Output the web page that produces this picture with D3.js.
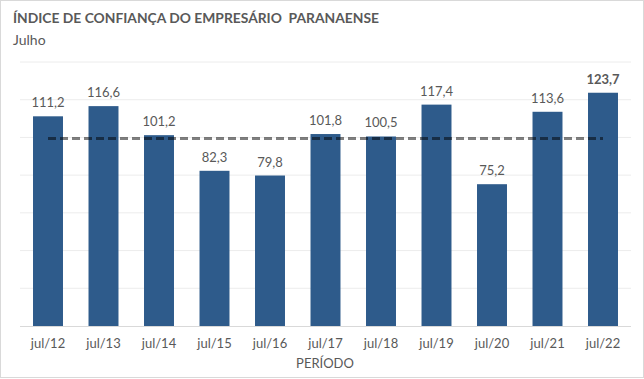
<!DOCTYPE html>
<html><head><meta charset="utf-8">
<script src="https://cdn.jsdelivr.net/npm/d3@7"></script>
<style>body{margin:0;background:#fff;} svg{display:block;}</style>
</head><body>
<script>
const categories = ["jul/12","jul/13","jul/14","jul/15","jul/16","jul/17","jul/18","jul/19","jul/20","jul/21","jul/22"];
const values = [111.2,116.6,101.2,82.3,79.8,101.8,100.5,117.4,75.2,113.6,123.7];
const labels = ["111,2","116,6","101,2","82,3","79,8","101,8","100,5","117,4","75,2","113,6","123,7"];
const refValue = 100;
const yTicks = [0,20,40,60,80,100,120,140];

const W = 644, H = 379;
const font = "Lato, 'Open Sans', sans-serif";
const svg = d3.select("body").append("svg").attr("width", W).attr("height", H);
svg.append("rect").attr("x",0.5).attr("y",0.5).attr("width",W-1).attr("height",H-2)
  .attr("fill","#fff").attr("stroke","#d9d9d9");

const x = d3.scaleBand().domain(categories).range([20.25, 630.75]).paddingInner(0.46).paddingOuter(0.23);
const y = d3.scaleLinear().domain([0,140]).range([326, 62]);

svg.append("g").selectAll("line").data(yTicks.slice(1)).join("line")
  .attr("x1",20).attr("x2",631).attr("y1",d=>y(d)).attr("y2",d=>y(d))
  .attr("stroke","#ececec").attr("stroke-width",1);

svg.append("g").selectAll("rect").data(values).join("rect")
  .attr("x",(d,i)=>x(categories[i])).attr("width",x.bandwidth())
  .attr("y",d=>y(d)).attr("height",d=>y(0)-y(d)).attr("fill","#2e5b8b");

svg.append("line").attr("x1",20).attr("x2",631).attr("y1",y(0)+0.5).attr("y2",y(0)+0.5)
  .attr("stroke","#d9d9d9");

const c0 = x(categories[0]) + x.bandwidth()/2, c1 = x(categories[categories.length-1]) + x.bandwidth()/2;
svg.append("line").attr("x1",c0).attr("x2",c1).attr("y1",y(refValue)+1).attr("y2",y(refValue)+1)
  .attr("stroke","#000").attr("stroke-opacity",0.5).attr("stroke-width",3)
  .attr("stroke-dasharray","8,4");

svg.append("g").selectAll("text").data(values).join("text")
  .attr("x",(d,i)=>x(categories[i])+x.bandwidth()/2).attr("y",d=>y(d)-9)
  .attr("text-anchor","middle").attr("font-family",font).attr("font-size",13)
  .attr("font-weight",(d,i)=>i===values.length-1?"bold":"normal")
  .attr("fill","#595959").text((d,i)=>labels[i]);

svg.append("g").selectAll("text").data(categories).join("text")
  .attr("x",d=>x(d)+x.bandwidth()/2).attr("y",348)
  .attr("text-anchor","middle").attr("font-family",font).attr("font-size",13)
  .attr("fill","#595959").text(d=>d);

svg.append("text").attr("x",325).attr("y",368).attr("text-anchor","middle")
  .attr("font-family",font).attr("font-size",13).attr("fill","#595959").text("PERÍODO");

svg.append("text").attr("x",13).attr("y",23).attr("font-family",font).attr("font-size",14)
  .attr("font-weight","bold").attr("fill","#595959").attr("xml:space","preserve")
  .attr("textLength",366).attr("lengthAdjust","spacingAndGlyphs")
  .text("ÍNDICE DE CONFIANÇA DO EMPRESÁRIO  PARANAENSE");
svg.append("text").attr("x",13).attr("y",45).attr("font-family",font).attr("font-size",14)
  .attr("fill","#595959").text("Julho");
</script>
</body></html>
